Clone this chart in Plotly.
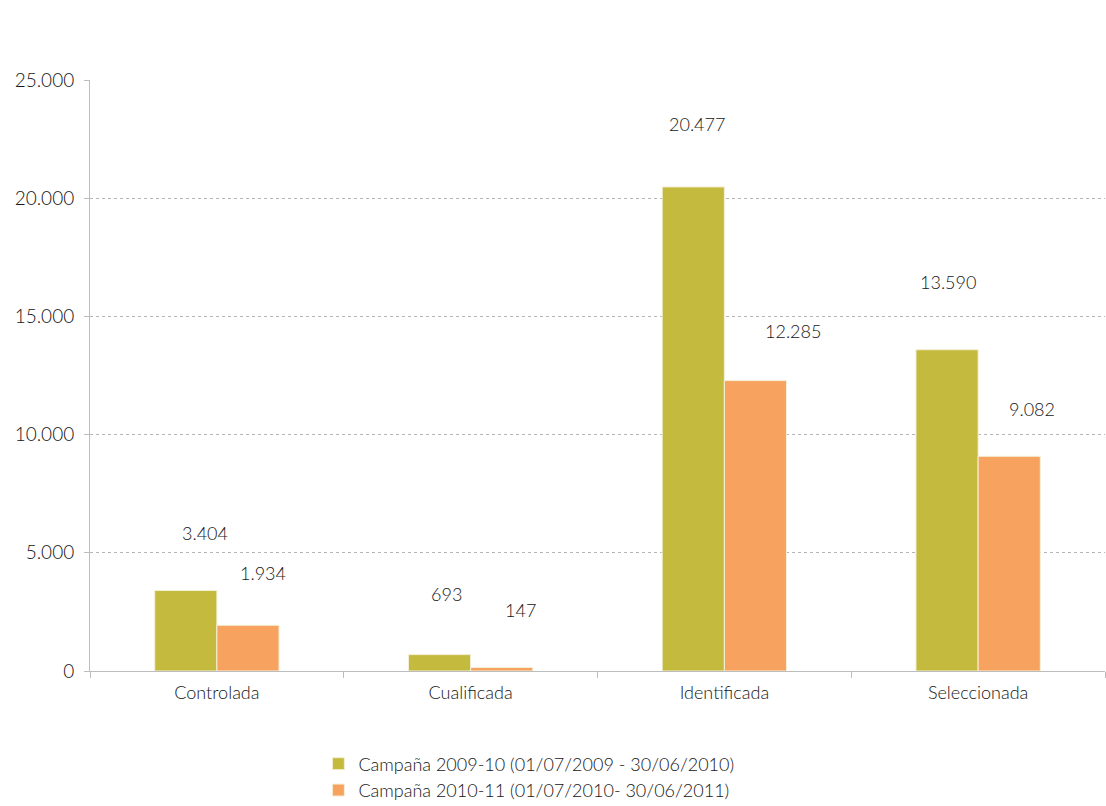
import plotly.graph_objects as go

categories = ["Controlada", "Cualificada", "Identificada", "Seleccionada"]
series_names = [
    "Campaña 2009-10 (01/07/2009 - 30/06/2010)",
    "Campaña 2010-11 (01/07/2010- 30/06/2011)",
]
values_2009_10 = [3404, 693, 20477, 13590]
values_2010_11 = [1934, 147, 12285, 9082]
y_ticks = [0, 5000, 10000, 15000, 20000, 25000]

colors = ["#C4BA3E", "#F7A35F"]
font_family = "Lato"
font_weight = 300
text_color = "#161616"

# pixel offsets of the value labels (relative to the top of each bar)
label_dx = [[19, 7, 4, 1], [15, 19, 38, 23]]
label_dy = [[58, 61, 63, 68], [52, 58, 50, 47]]


def fmt(v):
    return f"{v:,}".replace(",", ".")


def tfont(size):
    return dict(family=font_family, size=size, color=text_color, weight=font_weight)


fig = go.Figure()
for name, vals, col in zip(series_names, [values_2009_10, values_2010_11], colors):
    fig.add_trace(go.Bar(
        x=categories, y=vals, name=name,
        marker=dict(color=col, line=dict(color="#f4f0d8", width=1)),
    ))

annotations = []
bar_w = 0.245
for s, vals in enumerate([values_2009_10, values_2010_11]):
    for i, (c, v) in enumerate(zip(categories, vals)):
        offset = (-0.5 + s) * bar_w
        annotations.append(dict(
            x=i + offset, y=v, xref="x", yref="y",
            text=fmt(v), showarrow=False,
            xshift=label_dx[s][i], yshift=label_dy[s][i],
            font=tfont(18),
        ))

fig.update_layout(
    width=1106, height=806,
    margin=dict(l=90, r=1, t=80, b=135, autoexpand=False),
    paper_bgcolor="white", plot_bgcolor="white",
    barmode="group", bargap=0.51, bargroupgap=0,
    separators=",.",
    font=tfont(18),
    showlegend=True,
    legend=dict(
        orientation="v", x=0.225, xanchor="left", y=-0.126, yanchor="top",
        font=tfont(18),
        itemwidth=30, tracegroupgap=0, bgcolor="rgba(0,0,0,0)",
    ),
    annotations=annotations,
)
fig.update_xaxes(
    type="category",
    showline=True, linecolor="#bdbdbd", linewidth=1,
    ticks="outside", tickson="boundaries", ticklen=6, tickcolor="#bdbdbd",
    showgrid=False,
    tickfont=tfont(18),
    ticklabelstandoff=5,
    automargin=False,
)
fig.update_yaxes(
    range=[0, 25000], tickvals=y_ticks,
    ticktext=[fmt(t) for t in y_ticks],
    showline=True, linecolor="#bdbdbd", linewidth=1,
    ticks="outside", ticklen=5, tickcolor="#bdbdbd",
    showgrid=True, gridcolor="#b5b5b5", griddash="dot", gridwidth=1,
    zeroline=False,
    tickfont=tfont(19),
    ticklabelstandoff=6,
    automargin=False,
)

fig.write_html("out.html")
